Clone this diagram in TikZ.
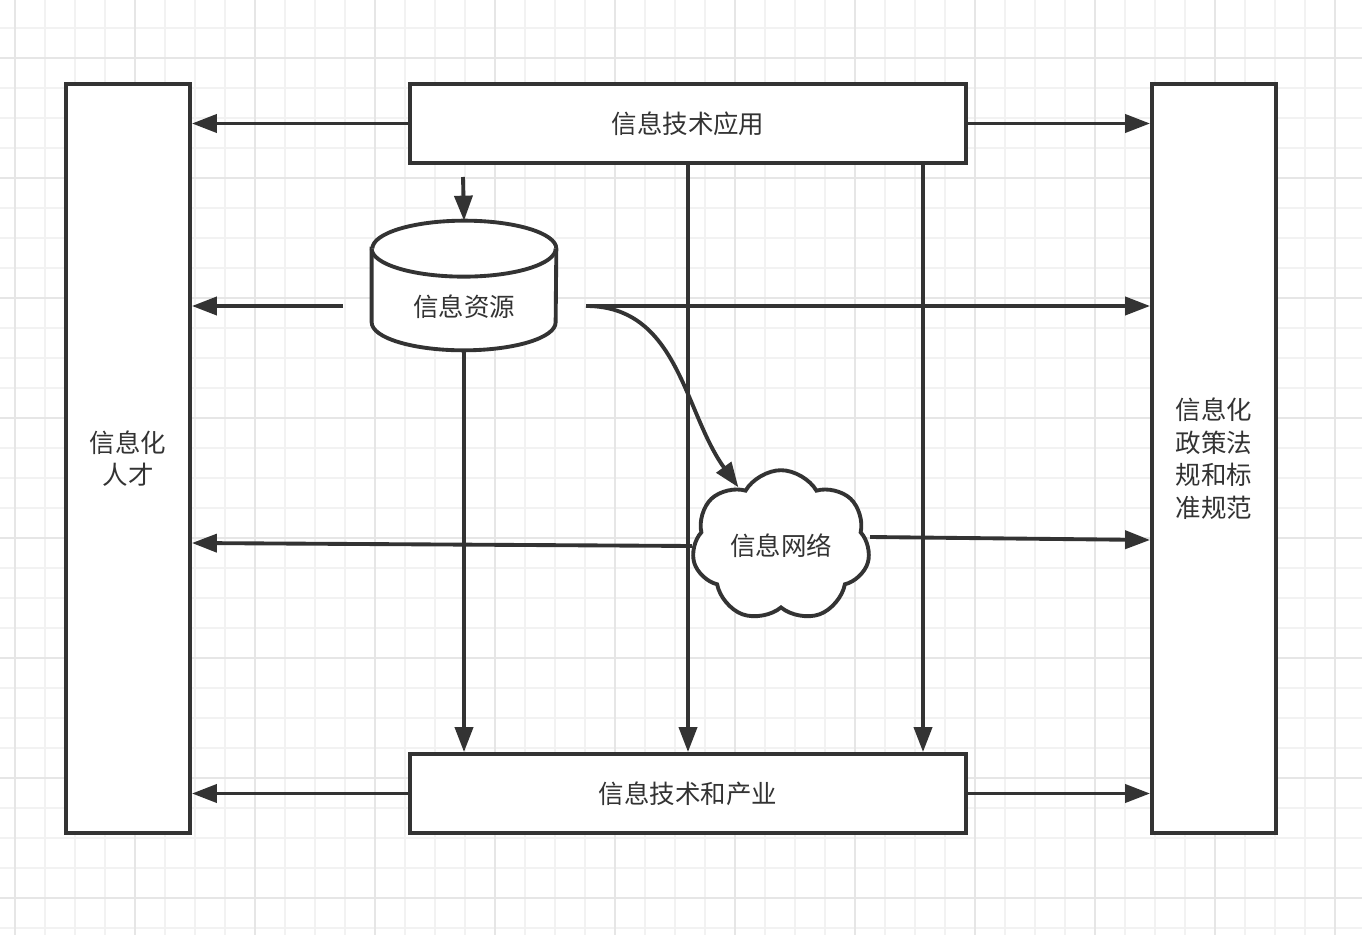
\documentclass[tikz,border=0pt]{standalone}
\usepackage{fontspec}
\setmainfont{Noto Sans CJK SC}
\usetikzlibrary{arrows.meta}
\usetikzlibrary{shapes.symbols}
\definecolor{ink}{HTML}{333333}
\definecolor{gridminor}{HTML}{F2F2F2}
\definecolor{gridmajor}{HTML}{E6E6E6}

\tikzset{
  box/.style={draw=ink,line width=2.2pt,fill=white,text=ink,
    font=\fontsize{14.5}{18.5}\selectfont,align=center},
  arr/.style={draw=ink,line width=2.2pt,-{Triangle[length=0.5cm,width=0.36cm]}},
  ends/.style={x radius=1.84cm,y radius=0.56cm},
}

\begin{document}
\begin{tikzpicture}[x=0.02cm,y=-0.02cm]
\useasboundingbox (0,0) rectangle (1362,935);
\fill[white] (0,0) rectangle (1362,935);
\foreach \gx in {15,45,...,1355} \draw[gridminor,line width=1.1pt] (\gx,0) -- (\gx,935);
\foreach \gy in {28,58,...,928} \draw[gridminor,line width=1.1pt] (0,\gy) -- (1362,\gy);
\foreach \gx in {15,135,...,1335} \draw[gridmajor,line width=1.1pt] (\gx,0) -- (\gx,935);
\foreach \gy in {58,178,...,898} \draw[gridmajor,line width=1.1pt] (0,\gy) -- (1362,\gy);

\node[box,minimum width=2.48cm,minimum height=14.98cm] (talent) at (128,458.5) {信息化\\人才};
\node[box,minimum width=2.48cm,minimum height=14.98cm] (policy) at (1214,458.5) {信息化\\政策法\\规和标\\准规范};
\node[box,minimum width=11.12cm,minimum height=1.58cm] (app) at (688,123.5) {信息技术应用};
\node[box,minimum width=11.12cm,minimum height=1.58cm] (industry) at (688,793.5) {信息技术和产业};
\node[box,cloud,cloud puffs=7,cloud puff arc=120,aspect=1.3,minimum width=3.56cm,minimum height=2.5cm] (net) at (781,546) {信息网络};

% cylinder
\node[minimum width=3.68cm,minimum height=2.58cm,inner sep=0pt] (res) at (464,285.5) {};
\draw[box] ([yshift=-0.56cm]res.north west) -- ([yshift=0.56cm]res.south west)
  arc[start angle=180,end angle=360,ends] -- ([yshift=-0.56cm]res.north east)
  arc[start angle=0,end angle=180,ends] -- cycle;
\draw[box] ([yshift=-0.56cm]res.north west) arc[start angle=180,end angle=360,ends];
\node[text=ink,font=\fontsize{14.5}{18.5}\selectfont] (resname) at (464,307) {信息资源};

\coordinate (c2) at (923,0);
\coordinate (d0) at (463,177);
\coordinate (rl) at (343,306);
\coordinate (rr) at (586,306);

% top box
\draw[arr] (app.west) -- (app.west -| talent.east);
\draw[arr] (app.east) -- (app.east -| policy.west);
\draw[arr] (d0) -- (res.north);
\draw[arr] (app.south) -- (industry.north);
\draw[arr] (app.south -| c2) -- (industry.north -| c2);
% resources
\draw[arr] (rl) -- (rl -| talent.east);
\draw[arr] (rr) -- (rr -| policy.west);
\draw[arr] (res.south) -- (industry.north -| res.south);
\draw[arr] (rr) to[out=0,in=126] (net);
% network
\draw[arr] (net.west) -- ([yshift=0.06cm]net.west -| talent.east);
\draw[arr] ([yshift=0.18cm]net.east) -- ([yshift=0.12cm]net.east -| policy.west);
% industry
\draw[arr] (industry.west) -- (industry.west -| talent.east);
\draw[arr] (industry.east) -- (industry.east -| policy.west);
\end{tikzpicture}
\end{document}
